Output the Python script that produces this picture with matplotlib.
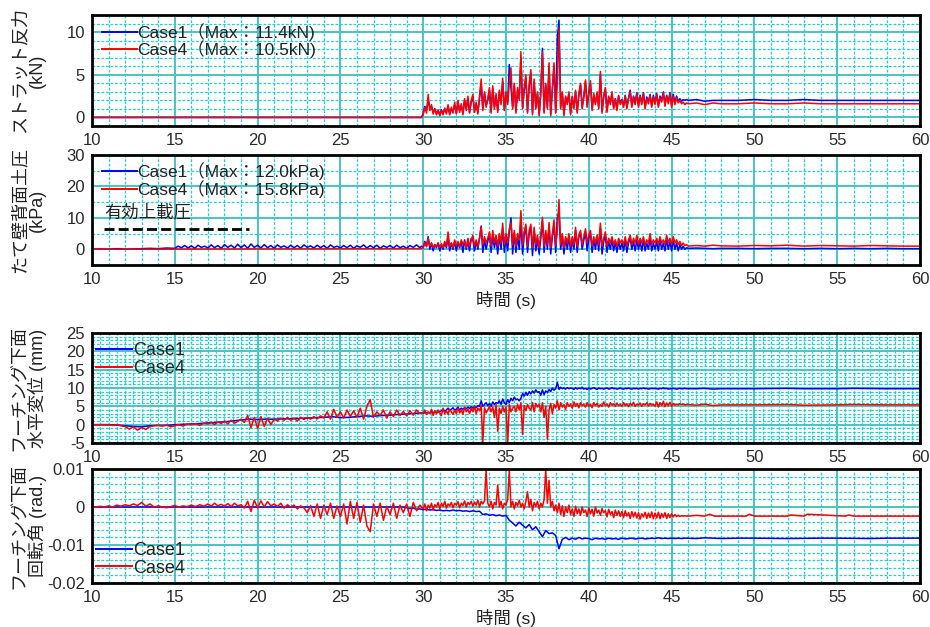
import numpy as np
import matplotlib
matplotlib.use("Agg")
import matplotlib.pyplot as plt
from matplotlib.ticker import MultipleLocator, FuncFormatter

plt.rcParams['font.family'] = ['Liberation Sans', 'Noto Sans CJK JP', 'DejaVu Sans']
plt.rcParams['axes.unicode_minus'] = False

C1_COLOR = '#0000ff'
C4_COLOR = '#ff0000'

# ====================== DATA ======================
time_range = [10, 60]
case_names = ['Case1', 'Case4']

# ---- Panel 1: strut reaction force (kN) ----
strut_labels = ['Case1（Max：11.4kN)', 'Case4（Max：10.5kN)']
strut_quiet_t = [10.0, 29.9]
strut_c1_quiet = [0.0, 0.0]
strut_c4_quiet = [0.0, 0.0]
strut_active_start = 29.9
strut_active_dt = 0.1
strut_c1_active = [
    0.0,
    0.5, 1.3, 0.8, 2.0, 1.2, 1.3, 0.6, 1.0, 0.5, 0.8,
    0.3, 0.9, 0.5, 1.0, 0.6, 1.3, 0.4, 1.0, 0.7, 1.5,
    0.5, 1.8, 0.8, 1.4, 0.5, 2.0, 1.0, 2.2, 0.6, 1.8,
    2.4, 0.8, 1.6, 0.6, 2.2, 4.0, 1.0, 2.8, 1.4, 2.0,
    3.2, 0.7, 3.4, 1.2, 2.5, 0.8, 3.0, 1.7, 4.2, 1.0,
    2.8, 1.7, 6.2, 3.5, 1.2, 3.8, 0.7, 3.2, 2.2, 7.0,
    1.2, 3.2, 4.6, 0.7, 3.6, 5.2, 0.5, 4.2, 1.2, 2.8,
    0.4, 2.8, 8.1, 0.7, 3.8, 1.2, 6.0, 0.4, 3.2, 6.0,
    0.7, 9.3, 11.4, 1.2, 2.8, 0.4, 2.4, 1.7, 2.8, 0.5,
    2.4, 1.2, 3.0, 0.7, 2.6, 3.8, 1.2, 2.4, 4.2, 1.4,
    2.8, 4.0, 1.0, 2.6, 1.7, 2.8, 1.2, 5.0, 0.7, 2.4,
    3.3, 0.8, 2.4, 1.7, 2.8, 1.2, 2.2, 1.0, 2.5, 1.7,
    2.1, 1.4, 2.6, 1.2, 2.3, 3.2, 1.4, 2.5, 1.7, 2.9,
    1.4, 2.6, 1.7, 2.9, 1.2, 2.4, 1.8, 2.7, 1.4, 2.6,
    1.7, 2.8, 1.4, 2.5, 2.0, 3.0, 1.5, 2.6, 1.8, 2.9,
    1.5, 2.7, 1.7, 2.5, 1.9, 2.2, 1.9, 2.1, 2.0, 2.1,
    2.0]
strut_c4_active = [
    0.0,
    0.3, 1.2, 0.5, 2.7, 0.8, 1.5, 0.4, 1.0, 0.3, 0.9,
    0.2, 0.8, 0.3, 1.1, 0.4, 1.5, 0.3, 1.2, 0.5, 1.8,
    0.4, 2.0, 0.6, 1.6, 0.3, 2.2, 0.8, 2.5, 0.5, 2.0,
    2.7, 0.6, 1.8, 0.4, 2.5, 4.5, 0.8, 3.0, 1.2, 2.2,
    3.5, 0.5, 3.7, 1.0, 2.8, 0.6, 3.2, 1.5, 4.6, 0.8,
    3.0, 1.5, 4.0, 5.8, 1.0, 4.0, 0.5, 3.5, 2.0, 7.7,
    1.0, 3.5, 5.0, 0.5, 4.0, 5.6, 0.3, 4.5, 1.0, 3.0,
    0.2, 3.0, 7.7, 0.5, 4.0, 1.0, 6.4, 0.2, 3.5, 6.4,
    0.5, 4.0, 10.5, 1.0, 3.0, 0.2, 2.5, 1.5, 3.0, 0.3,
    2.5, 1.0, 3.2, 0.5, 2.8, 4.0, 1.0, 2.5, 4.4, 1.2,
    3.0, 4.3, 0.8, 2.8, 1.5, 3.0, 1.0, 5.4, 0.5, 2.5,
    3.5, 0.6, 2.5, 1.5, 3.0, 1.0, 2.2, 0.8, 2.6, 1.5,
    2.0, 1.2, 2.5, 1.0, 2.2, 3.0, 1.2, 2.4, 1.5, 2.8,
    1.2, 2.5, 1.5, 2.8, 1.0, 2.2, 1.6, 2.6, 1.2, 2.4,
    1.5, 2.7, 1.2, 2.3, 1.8, 2.9, 1.3, 2.5, 1.6, 2.8,
    1.2, 2.5, 1.5, 2.3, 1.7, 2.0, 1.6, 1.8, 1.5, 1.7,
    1.6]
strut_tail_t = [46.5, 47, 47.5, 48, 49, 50, 51, 52, 53, 54, 55, 56, 57, 58, 59, 60]
strut_c1_tail = [2.1, 1.9, 2.0, 2.0, 2.0, 2.1, 2.0, 2.0, 2.1, 2.0, 2.0, 2.0, 2.0, 2.0, 2.0, 2.0]
strut_c4_tail = [1.7, 1.5, 1.7, 1.6, 1.6, 1.7, 1.6, 1.6, 1.7, 1.6, 1.6, 1.6, 1.6, 1.6, 1.6, 1.6]

# ---- Panel 2: earth pressure behind wall (kPa) ----
press_labels = ['Case1（Max：12.0kPa)', 'Case4（Max：15.8kPa)']
overburden_label = '有効上載圧'
overburden_kpa = 6.5
overburden_t = [10.7, 19.5]
press_c1_early_start, press_c1_early_dt = 10.0, 0.5
press_c1_early = [0.0, 0.1, 0.0, 0.2, 0.0, 0.1, 0.2, 0.3, 0.2, 0.4]
press_c1_quiet_start, press_c1_quiet_dt = 15.0, 0.2
press_c1_quiet = [
    0.3, 1.0, 0.5, 1.2, 0.4, 1.1, 0.3, 1.3, 0.6, 1.0,
    0.4, 1.4, 0.5, 1.2, 0.3, 1.5, 0.6, 1.3, 0.4, 1.6,
    0.5, 1.4, 0.3, 1.7, 0.6, 1.3, 0.4, 1.5, 0.5, 1.2,
    0.3, 1.4, 0.6, 1.1, 0.4, 1.3, 0.5, 1.2, 0.3, 1.4,
    0.6, 1.1, 0.4, 1.3, 0.5, 1.2, 0.3, 1.4, 0.6, 1.0,
    0.4, 1.2, 0.5, 1.3, 0.3, 1.1, 0.6, 1.4, 0.4, 1.2,
    0.5, 1.3, 0.3, 1.1, 0.6, 1.2, 0.4, 1.3, 0.5, 1.0,
    0.3, 1.2, 0.6, 1.4, 0.5]
press_c4_quiet_t = [10.0, 29.9]
press_c4_quiet = [0.0, 0.2]
press_active_start, press_active_dt = 29.9, 0.1
press_c1_active = [
    1.0,
    0.5, 2.5, 1.0, 4.0, 0.0, 2.0, -0.5, 1.5, 0.5, 2.0,
    -0.5, 1.5, 0.0, 2.0, 0.5, 3.5, -0.5, 2.0, 0.0, 2.5,
    -0.5, 2.0, 0.5, 2.5, -1.0, 3.0, 0.0, 2.5, -0.5, 3.5,
    3.0, -0.5, 2.5, 0.0, 3.5, 7.4, -1.0, 3.0, 0.0, 2.5,
    5.0, -1.0, 4.0, 0.5, 3.5, -1.5, 4.5, 0.0, 6.5, -1.0,
    4.0, -0.5, 5.5, 10.0, -1.5, 5.0, -1.0, 4.0, 0.0, 9.0,
    -1.5, 4.5, 7.0, -1.0, 5.0, 7.0, -2.0, 6.0, -0.5, 3.5,
    -1.5, 3.5, 9.0, -1.0, 5.0, 0.0, 7.5, -1.5, 4.0, 8.0,
    -1.0, 10.2, 12.0, 0.0, 4.0, -1.5, 3.5, 0.0, 4.0, -1.0,
    3.5, 0.0, 6.0, -1.0, 4.0, 5.0, 0.0, 3.0, 5.5, -0.5,
    3.5, 5.0, -1.0, 3.0, 0.0, 4.0, -0.5, 7.0, -1.5, 2.5,
    4.5, -1.0, 2.5, 0.0, 3.0, -0.5, 2.5, -1.0, 2.5, 0.0,
    2.0, -0.5, 3.0, -1.0, 2.0, 3.5, 0.0, 2.5, -0.5, 3.0,
    0.0, 2.5, -0.5, 3.0, -0.5, 2.0, 0.0, 3.5, -0.5, 2.0,
    0.0, 2.5, -0.5, 3.0, 0.0, 2.0, -0.5, 3.0, 0.0, 2.5,
    -0.5, 3.0, 0.0, 2.0, -0.5, 1.5, 0.0, 1.0, 0.0, 0.5,
    0.3]
press_c4_active = [
    0.2,
    0.5, 2.0, 0.8, 3.5, 1.0, 2.0, 0.5, 1.5, 0.8, 2.0,
    0.6, 1.8, 0.5, 2.5, 1.0, 5.5, 0.8, 2.0, 0.5, 3.0,
    1.0, 2.5, 0.8, 3.0, 1.5, 2.5, 0.6, 3.5, 1.0, 2.8,
    4.5, 1.0, 3.0, 0.8, 3.5, 7.0, 1.5, 4.0, 2.0, 3.5,
    5.5, 1.0, 6.0, 2.0, 4.5, 1.0, 5.0, 2.0, 8.3, 1.5,
    5.0, 2.0, 6.5, 8.5, 1.5, 6.0, 1.0, 5.0, 3.0, 12.3,
    1.5, 5.5, 8.0, 1.0, 6.0, 8.0, 0.5, 7.0, 1.5, 4.5,
    0.5, 4.5, 10.2, 1.0, 6.0, 1.5, 8.5, 0.5, 5.0, 9.4,
    1.0, 6.0, 15.8, 1.5, 5.0, 0.5, 4.0, 2.0, 5.0, 0.8,
    4.0, 1.5, 7.0, 1.0, 4.5, 6.0, 1.5, 4.0, 6.5, 2.0,
    4.5, 6.0, 1.0, 4.0, 2.0, 4.5, 1.5, 8.3, 1.0, 3.5,
    5.5, 1.0, 3.5, 2.0, 4.0, 1.5, 3.0, 1.0, 3.5, 2.0,
    3.0, 1.5, 4.0, 1.0, 3.0, 4.5, 1.5, 3.5, 2.0, 4.5,
    1.5, 3.5, 2.0, 4.0, 1.2, 3.0, 2.0, 5.0, 1.5, 3.0,
    2.0, 3.5, 1.5, 4.0, 2.0, 3.0, 1.5, 4.5, 2.0, 3.5,
    1.5, 4.0, 2.0, 3.0, 1.5, 2.5, 1.2, 2.0, 1.2, 1.5,
    1.0]
press_tail_t = [46.5, 47, 47.5, 48, 49, 50, 51, 52, 53, 54, 55, 56, 57, 58, 59, 60]
press_c1_tail = [0.4, 0.3, 0.2, 0.3, 0.3, 0.2, 0.3, 0.3, 0.2, 0.3, 0.2, 0.3, 0.2, 0.3, 0.2, 0.2]
press_c4_tail = [1.2, 1.0, 1.3, 1.1, 1.0, 1.2, 1.1, 1.3, 1.0, 1.2, 1.1, 1.0, 1.2, 1.1, 1.0, 1.0]

# ---- Panel 3: footing horizontal displacement (mm) ----
disp_c1_early_start, disp_c1_early_dt = 10.0, 0.5
disp_c1_early = [
    0.0, 0.0, 0.0, -0.1, -0.3, -0.5, -0.6, -0.3, -0.2, -0.2,
    0.0, 0.1, 0.2, 0.3, 0.5, 0.6, 0.8, 1.0, 1.3, 1.5,
    1.4, 1.5, 1.5, 1.6, 1.6, 1.7, 1.8, 1.9, 2.0, 2.2,
    1.9, 2.0, 2.2, 2.4, 2.3, 2.5, 2.6, 2.8, 2.9, 3.1,
    3.2, 3.3]
disp_c1_active_start, disp_c1_active_dt = 31.0, 0.1
disp_c1_active = [
    3.5, 3.8, 4.2, 3.6, 4.0, 4.5, 3.8, 4.2, 4.6, 4.0,
    4.2, 4.8, 4.0, 4.5, 4.2, 4.6, 4.3, 4.8, 4.4, 4.9,
    4.5, 5.0, 4.6, 5.2, 5.0, 6.5, 5.0, 5.5, 6.0, 5.2,
    5.8, 5.0, 6.2, 5.5, 6.0, 5.8, 6.5, 5.5, 7.0, 6.0,
    5.5, 6.8, 6.0, 7.2, 6.5, 7.5, 6.8, 7.0, 6.5, 7.2,
    8.5, 7.8, 8.8, 8.0, 9.0, 8.4, 9.2, 8.6, 9.5, 8.8,
    9.0, 8.0, 9.5, 8.2, 9.2, 8.8, 9.6, 9.0, 10.0, 9.4,
    9.8, 11.5, 9.6, 10.2, 9.8, 10.0, 9.7, 10.1, 9.8, 10.0,
    9.9, 9.6, 10.1, 9.7, 10.0, 9.8, 10.2, 9.7, 9.9, 9.6,
    10.0, 9.7, 9.9, 10.1, 9.8, 9.6, 10.0, 9.8, 9.9, 9.7,
    9.9, 10.0, 9.7, 9.8, 10.1, 9.8, 9.9, 9.7, 9.8, 10.0,
    9.8, 9.7, 9.9, 9.8, 10.0, 9.8, 9.7, 9.9, 9.8, 9.9,
    9.7, 9.9, 9.8, 10.0, 9.8, 9.9, 9.7, 9.8, 9.9, 9.8,
    9.9, 9.8, 9.7, 9.9, 9.8, 10.0, 9.8, 9.9, 9.7, 9.8,
    9.8, 9.9, 9.8, 9.7, 9.8, 9.9, 9.8, 9.8, 9.9, 9.8]
disp_c1_tail_t = [46.5, 47, 47.5, 48, 50, 52, 53, 55, 56, 58, 60]
disp_c1_tail = [9.8, 9.9, 9.7, 9.8, 9.8, 9.9, 9.8, 9.8, 9.9, 9.8, 9.8]
disp_c4_early_start, disp_c4_early_dt = 10.0, 0.25
disp_c4_early = [
    0.0, 0.0, 0.0, 0.0, 0.0, -0.2, 0.0, -0.3,
    -0.5, -1.2, -0.6, -1.5, -0.8, -1.3, -0.5, -0.3,
    -0.2, -0.4, -0.1, -0.6, -0.3, 0.0, -0.4, 0.2,
    0.0, 0.3, -0.2, 0.4]
disp_c4_mid_start, disp_c4_mid_dt = 17.0, 0.2
disp_c4_mid = [
    0.2, 0.6, 0.0, 0.8, 0.3, 1.0, 0.2, 1.2, 0.4, 0.9,
    1.5, 0.6, 2.5, -0.8, 2.0, -1.0, 2.2, -0.5, 1.8, 0.0,
    1.5, 1.0, 1.8, 1.2, 2.0, 1.2, 1.8, 1.0, 2.0, 1.4,
    2.0, 1.5, 2.2, 1.6, 2.4, 1.8, 3.5, 1.5, 4.2, 2.0,
    3.5, 1.8, 4.0, 2.2, 3.8, 2.0, 4.5, 1.5, 5.0, 6.8,
    2.0, 3.5, 2.5, 4.0, 1.8, 3.5, 2.2, 4.0, 2.5, 3.6,
    2.4, 3.8, 2.6, 4.0, 3.0]
disp_c4_active_start, disp_c4_active_dt = 30.0, 0.1
disp_c4_active = [
    3.2, 4.0, 2.8, 3.5, 3.0, 4.2, 2.5, 3.8, 3.0, 4.0,
    3.2, 2.5, 4.5, 3.0, 3.8, 2.8, 4.2, 3.5, 2.8, 4.0,
    3.0, 4.5, 3.2, 4.0, 2.8, 4.8, 3.5, 4.2, 3.0, 4.5,
    3.5, 5.0, 3.0, 4.5, 3.8, 5.2, -5.0, 4.6, 3.2, 4.0,
    5.0, 3.5, 4.8, 2.0, 5.5, -1.8, 4.5, 3.0, 5.0, 3.5,
    4.8, -5.0, 5.5, 3.5, 4.5, 5.0, 3.5, 5.5, 4.0, 6.0,
    -2.7, 5.2, 3.8, 5.5, 4.5, 4.0, 6.0, 3.5, 5.8, 4.8,
    5.5, 3.5, 6.0, 2.0, 5.0, -4.0, 4.0, 5.8, 3.0, 5.5,
    4.5, 6.5, 4.0, 6.0, 4.8, 5.5, 4.2, 6.0, 5.0, 5.6,
    4.5, 6.2, 5.0, 5.8, 4.6, 6.0, 5.2, 5.5, 4.8, 6.0,
    5.0, 5.6, 4.6, 6.0, 5.2, 5.8, 4.8, 5.5, 5.0, 6.2,
    5.2, 5.6, 4.8, 6.0, 5.3, 5.7, 5.0, 5.9, 5.2, 5.5,
    5.0, 6.0, 5.2, 5.7, 4.9, 5.8, 5.3, 6.1, 5.0, 5.6,
    5.3, 5.9, 5.0, 5.7, 5.4, 6.0, 5.1, 5.8, 5.3, 5.6,
    5.0, 6.2, 4.8, 6.0, 5.2, 6.3, 4.9, 5.9, 5.2, 6.1,
    5.0, 5.8, 5.3, 5.6, 5.4, 5.7, 5.5, 5.6, 5.4, 5.5,
    5.5]
disp_c4_tail_t = [46.5, 47, 47.5, 48, 50, 52, 53, 55, 56, 58, 60]
disp_c4_tail = [5.3, 5.6, 5.2, 5.4, 5.4, 5.5, 5.3, 5.4, 5.5, 5.4, 5.4]

# ---- Panel 4: footing rotation (values in 1e-3 rad) ----
rot_scale = 1e-3
rot_c1_quiet_t = [10.0, 28.8]
rot_c1_quiet = [0.0, 0.0]
rot_c1_active_start, rot_c1_active_dt = 29.0, 0.2
rot_c1_active = [
    -0.2, -0.4, -0.3, -0.6, -0.5,
    -0.7, -0.6, -0.8, -0.7, -0.9,
    -0.8, -1.0, -0.9, -1.0, -0.8,
    -1.0, -0.9, -1.1, -1.0, -1.2,
    -1.0, -1.2, -1.1, -2.0, -1.8,
    -2.2, -2.0, -2.3, -2.1, -2.4,
    -2.2, -3.5, -4.2, -5.0, -4.0,
    -4.8, -5.5, -4.6, -6.0, -5.2,
    -6.5, -7.8, -6.2, -7.0, -6.8,
    -7.5, -11.0, -8.5, -8.0, -8.6,
    -8.2, -8.5, -8.0, -8.4, -8.2,
    -8.3, -8.6, -8.2, -8.4, -8.3,
    -8.5, -8.2, -8.4, -8.3, -8.5,
    -8.2, -8.4, -8.3, -8.2, -8.4,
    -8.3, -8.2, -8.4, -8.3, -8.2,
    -8.3, -8.1, -8.3, -8.2, -8.3,
    -8.2, -8.3, -8.2, -8.3, -8.2]
rot_c1_tail_t = [46.5, 47, 48, 49, 50, 52, 54, 55, 57, 58, 60]
rot_c1_tail = [-8.3, -8.1, -8.3, -8.2, -8.2, -8.3, -8.2, -8.2, -8.3, -8.2, -8.2]
rot_c4_early_start, rot_c4_early_dt = 10.0, 0.25
rot_c4_early = [
    0.0, 0.0, 0.2, 0.0, 0.3, 0.0, 0.5, 0.2,
    0.6, 0.3, 0.8, 0.4, 1.2, 0.2, 0.8, 0.0,
    0.3, 0.0, -0.2, 0.1, 0.4, 0.0, 0.3, 0.1,
    0.5, 0.1, 0.6, 0.2]
rot_c4_mid_start, rot_c4_mid_dt = 17.0, 0.2
rot_c4_mid = [
    0.8, 0.2, 1.0, 0.3, 0.7, 0.2, 0.9, 0.1, 1.0, 0.3,
    0.6, -0.3, 1.5, -1.2, 1.8, -0.2, 1.6, 0.0, 1.4, 0.3,
    0.8, 0.1, 1.0, -0.3, 0.6, 0.0, 0.5, -0.5, 0.3, -0.2,
    -1.5, 0.4, -2.5, 0.8, -3.0, 0.5, -2.0, 1.0, -3.0, 0.3,
    -2.5, 0.8, -4.5, 1.5, -3.0, 1.2, -4.0, 0.5, -5.0, -6.5,
    0.8, -2.5, 1.0, -3.5, 0.2, -2.0, 1.0, -3.0, 0.5, -1.5,
    0.8, -2.5, 1.2, -1.0, 0.5]
rot_c4_active_start, rot_c4_active_dt = 30.0, 0.1
rot_c4_active = [
    -0.5, 0.8, -1.0, 0.5, -0.3, 1.0, -0.8, 0.6, 0.0, 1.2,
    -0.5, 1.0, 0.2, 1.5, -0.3, 0.8, 0.3, 1.2, -0.2, 1.0,
    0.5, 1.4, -0.2, 1.0, 0.4, 1.6, 0.0, 1.2, 0.6, 1.5,
    0.2, 1.3, 0.5, 1.8, 0.0, 1.5, 0.8, 1.6, 9.8, 1.0,
    0.0, 1.5, -0.5, 1.2, 0.5, 5.8, 0.0, 1.5, -0.5, 1.0,
    0.5, 2.0, 9.8, 0.0, 1.5, -0.5, 1.2, 0.3, 1.8, 0.0,
    1.0, -0.5, 1.5, 4.0, 0.0, 2.0, -1.0, 1.2, 0.2, 1.5,
    -0.5, 1.0, 0.0, 2.0, 9.8, 1.0, 7.0, 0.0, 1.5, -1.0,
    0.5, -1.5, 1.0, -2.0, 0.3, -2.5, 0.0, -1.5, 0.5, -2.0,
    -0.5, -2.5, 0.2, -1.8, -0.5, -2.2, 0.0, -1.5, -0.8, -2.5,
    -0.2, -1.8, -0.6, -2.4, 0.0, -1.6, -0.8, -2.2, -0.4, -1.5,
    -1.0, -2.6, -0.6, -2.0, -1.2, -2.8, -0.8, -2.2, -1.0, -2.5,
    -1.2, -2.8, -1.0, -2.4, -1.5, -3.0, -1.2, -2.6, -1.4, -2.9,
    -1.5, -3.2, -1.8, -2.6, -1.4, -3.0, -1.6, -2.8, -1.3, -3.1,
    -1.6, -2.9, -1.4, -3.1, -1.7, -2.7, -1.5, -3.0, -1.8, -2.8,
    -1.8, -2.6, -2.0, -2.5, -2.2, -2.5, -2.3, -2.4, -2.3, -2.4,
    -2.4]
rot_c4_tail_t = [46.5, 47, 47.3, 47.6, 48, 49.5, 49.7, 50, 52, 52.2, 53, 53.2, 55.5, 55.7, 56, 60]
rot_c4_tail = [-2.2, -2.4, -1.9, -2.4, -2.4, -2.4, -1.9, -2.4, -2.4, -2.1, -2.4, -1.9, -2.4, -2.1, -2.4, -2.4]

# ====================== HELPERS ======================
def sampled(start, dt, vals):
    return list(np.round(start + dt * np.arange(len(vals)), 3)), list(vals)

def join(*parts):
    t, v = [], []
    for pt, pv in parts:
        t += list(pt)
        v += list(pv)
    return np.array(t), np.array(v)

def style(ax, ylim, ymaj, ymin_, xmin_):
    ax.set_xlim(*time_range)
    ax.set_ylim(*ylim)
    ax.xaxis.set_major_locator(MultipleLocator(5))
    ax.xaxis.set_minor_locator(MultipleLocator(xmin_))
    ax.yaxis.set_major_locator(MultipleLocator(ymaj))
    ax.yaxis.set_minor_locator(MultipleLocator(ymin_))
    ax.grid(which='minor', color='#22d0d0', lw=0.9, ls=(0, (2.2, 1.4)))
    ax.grid(which='major', color='#48c4c4', lw=1.4, ls='-')
    ax.set_axisbelow(True)
    ax.tick_params(which='both', length=0, labelsize=12, labelcolor='#2a2a2a', pad=5)
    for s in ax.spines.values():
        s.set_linewidth(2.0)
        s.set_color('black')
        s.set_zorder(5)

def fmt_g(x, pos):
    return '%g' % round(x, 6)

# ====================== FIGURE ======================
W, H = 930, 627
fig = plt.figure(figsize=(W / 100, H / 100), dpi=100)

def add_ax(top_px, bottom_px):
    return fig.add_axes([92 / W, 1 - bottom_px / H, 828 / W, (bottom_px - top_px) / H])

ax1 = add_ax(15, 126)
ax2 = add_ax(155, 265)
ax3 = add_ax(333, 443)
ax4 = add_ax(469, 583)

LW = 1.1

# Panel 1
t, v = join((strut_quiet_t, strut_c1_quiet), sampled(strut_active_start, strut_active_dt, strut_c1_active),
            (strut_tail_t, strut_c1_tail))
ax1.plot(t, v, color=C1_COLOR, lw=LW, label=strut_labels[0])
t, v = join((strut_quiet_t, strut_c4_quiet), sampled(strut_active_start, strut_active_dt, strut_c4_active),
            (strut_tail_t, strut_c4_tail))
ax1.plot(t, v, color=C4_COLOR, lw=LW, label=strut_labels[1])
style(ax1, (-1, 12), 5, 1, 1)

# Panel 2
t, v = join(sampled(press_c1_early_start, press_c1_early_dt, press_c1_early),
            sampled(press_c1_quiet_start, press_c1_quiet_dt, press_c1_quiet),
            sampled(press_active_start, press_active_dt, press_c1_active),
            (press_tail_t, press_c1_tail))
ax2.plot(t, v, color=C1_COLOR, lw=LW, label=press_labels[0])
t, v = join((press_c4_quiet_t, press_c4_quiet), sampled(press_active_start, press_active_dt, press_c4_active),
            (press_tail_t, press_c4_tail))
ax2.plot(t, v, color=C4_COLOR, lw=LW, label=press_labels[1])
ax2.plot(overburden_t, [overburden_kpa] * 2, color='black', lw=2.0, ls=(0, (3.6, 1.5)))
ax2.text(overburden_t[0] + 0.05, 11.8, overburden_label, fontsize=12.5, color='#222222', va='center', ha='left')
style(ax2, (-5, 30), 10, 5, 1)
ax2.set_xlabel('時間 (s)', fontsize=12.5, color='#222222', labelpad=3)

# Panel 3
t, v = join(sampled(disp_c1_early_start, disp_c1_early_dt, disp_c1_early),
            sampled(disp_c1_active_start, disp_c1_active_dt, disp_c1_active),
            (disp_c1_tail_t, disp_c1_tail))
ax3.plot(t, v, color=C1_COLOR, lw=LW, label=case_names[0])
t, v = join(sampled(disp_c4_early_start, disp_c4_early_dt, disp_c4_early),
            sampled(disp_c4_mid_start, disp_c4_mid_dt, disp_c4_mid),
            sampled(disp_c4_active_start, disp_c4_active_dt, disp_c4_active),
            (disp_c4_tail_t, disp_c4_tail))
ax3.plot(t, v, color=C4_COLOR, lw=LW, label=case_names[1])
style(ax3, (-5, 25), 5, 1, 0.5)

# Panel 4
t, v = join((rot_c1_quiet_t, rot_c1_quiet), sampled(rot_c1_active_start, rot_c1_active_dt, rot_c1_active),
            (rot_c1_tail_t, rot_c1_tail))
ax4.plot(t, v * rot_scale, color=C1_COLOR, lw=LW, label=case_names[0])
t, v = join(sampled(rot_c4_early_start, rot_c4_early_dt, rot_c4_early),
            sampled(rot_c4_mid_start, rot_c4_mid_dt, rot_c4_mid),
            sampled(rot_c4_active_start, rot_c4_active_dt, rot_c4_active),
            (rot_c4_tail_t, rot_c4_tail))
ax4.plot(t, v * rot_scale, color=C4_COLOR, lw=LW, label=case_names[1])
style(ax4, (-0.02, 0.01), 0.01, 0.002, 1)
ax4.set_xlabel('時間 (s)', fontsize=12.5, color='#222222', labelpad=3)
for ax in (ax1, ax2, ax3, ax4):
    ax.yaxis.set_major_formatter(FuncFormatter(fmt_g))

# Legends
def legend(ax, loc, anchor, fs, spacing, hl):
    lg = ax.legend(loc=loc, bbox_to_anchor=anchor, frameon=False, fontsize=fs,
                   handlelength=hl, handletextpad=0.05, labelspacing=spacing,
                   borderaxespad=0, borderpad=0)
    for ln in lg.get_lines():
        ln.set_linewidth(1.4)
    for tx in lg.get_texts():
        tx.set_color('#222222')
    return lg

legend(ax1, 'upper left', (0.012, 0.93), 12.5, 0.0, 2.0)
legend(ax2, 'upper left', (0.012, 0.935), 12.5, 0.0, 2.0)
legend(ax3, 'upper left', (0.005, 0.915), 13, 0.05, 2.0)
legend(ax4, 'lower left', (0.005, 0.055), 13, 0.05, 2.0)

# Y labels (two lines, rotated)
ylabels = ['ストラット反力\n(kN)', 'たて壁背面土圧\n(kPa)', 'フーチング下面\n水平変位 (mm)', 'フーチング下面\n回転角 (rad.)']
for ax, lab in zip((ax1, ax2, ax3, ax4), ylabels):
    pos = ax.get_position()
    fig.text(29 / W, pos.y0 + pos.height / 2, lab, rotation=90, ha='center', va='center',
             multialignment='center', fontsize=13, color='#222222', linespacing=1.0)

fig.savefig('out.png', dpi=100)
